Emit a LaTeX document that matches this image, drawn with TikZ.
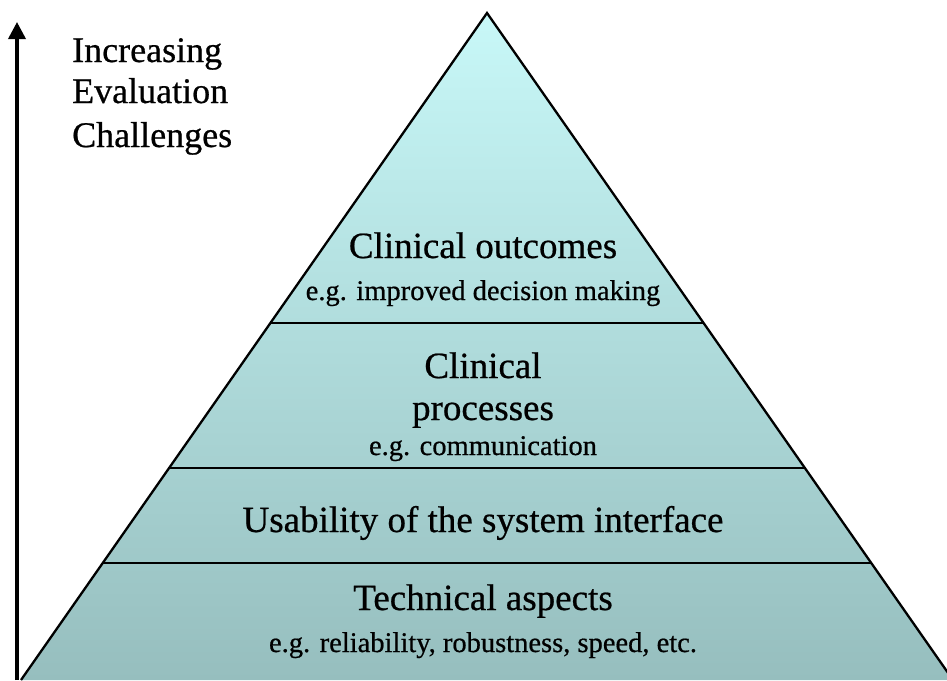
\documentclass[tikz,border=0pt]{standalone}
\usepackage{fontspec}
% slightly emboldened serif for all labels
\setmainfont[BoldFont={Liberation Serif},BoldFeatures={FakeBold=0.6}]{Liberation Serif}
\usetikzlibrary{arrows.meta,calc}
\definecolor{pyrtop}{RGB}{200,248,248}
\definecolor{pyrbot}{RGB}{150,190,190}
\begin{document}
\begin{tikzpicture}[x=1pt,y=-1pt,
  big/.style={font=\fontsize{37}{44}\selectfont\bfseries, anchor=base, inner sep=0pt},
  small/.style={font=\fontsize{28.5}{34}\selectfont\bfseries, anchor=base, inner sep=0pt},
  side/.style={font=\fontsize{36}{43}\selectfont\bfseries, anchor=base west, inner sep=0pt},
  divider/.style={line width=1.5pt},
  outline/.style={line width=2.3pt, line join=miter}]
\useasboundingbox (0,0) rectangle (947,680);

% pyramid corners
\coordinate (apex) at (487,13);
\coordinate (bl) at (21,680);
\coordinate (br) at (953,680);

% pyramid body with vertical gradient
\begin{scope}
  \clip (0,0) rectangle (947,680);
  \shade[top color=pyrtop, bottom color=pyrbot] (bl) -- (apex) -- (br) -- cycle;
  \draw[outline] (bl) -- (apex) -- (br);
\end{scope}

% level dividers
\coordinate (d1l) at ($(apex)!0.4648!(bl)$);
\coordinate (d1r) at ($(apex)!0.4648!(br)$);
\coordinate (d2l) at ($(apex)!0.6822!(bl)$);
\coordinate (d2r) at ($(apex)!0.6822!(br)$);
\coordinate (d3l) at ($(apex)!0.8246!(bl)$);
\coordinate (d3r) at ($(apex)!0.8246!(br)$);
\draw[divider] (d1l) -- (d1r);
\draw[divider] (d2l) -- (d2r);
\draw[divider] (d3l) -- (d3r);

% level labels
\node[big]   (outc)  at (483,258) {Clinical outcomes};
\node[small] (outcx) at (483,300) {e.g. improved decision making};
\node[big]   (proc1) at (483,378) {Clinical};
\node[big]   (proc2) at (483,420) {processes};
\node[small] (procx) at (483,455) {e.g. communication};
\node[big]   (usab)  at (483,532) {Usability of the system interface};
\node[big]   (tech)  at (483,610) {Technical aspects};
\node[small] (techx) at (483,652) {e.g. reliability, robustness, speed, etc.};

% side axis
\coordinate (axbase) at (17,680);
\coordinate (axtip) at (17,22);
\draw[line width=3.5pt, -{Triangle[length=17pt,width=17pt]}] (axbase) -- (axtip);
\node[side] (ax1) at (72,62)  {Increasing};
\node[side] (ax2) at (72,103) {Evaluation};
\node[side] (ax3) at (72,147) {Challenges};
\end{tikzpicture}
\end{document}
